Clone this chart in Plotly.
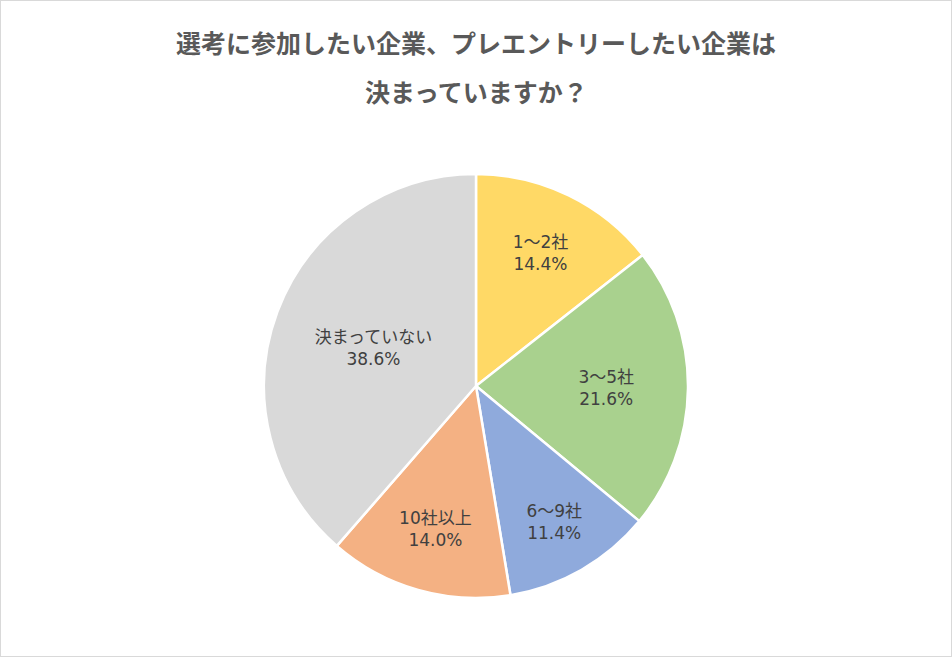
import plotly.graph_objects as go

# Survey answers (clockwise from 12 o'clock)
labels = ["1～2社", "3～5社", "6～9社", "10社以上", "決まっていない"]
shares = [14.4, 21.6, 11.4, 14.0, 38.6]
colors = ["#FFD966", "#A9D18E", "#8FAADC", "#F4B183", "#D9D9D9"]
title_lines = ["選考に参加したい企業、プレエントリーしたい企業は", "決まっていますか？"]

W, H = 952, 657
cx, cy, r = 476, 386, 212

fig = go.Figure(go.Pie(
    labels=labels,
    values=shares,
    sort=False,
    direction="clockwise",
    rotation=0,
    marker=dict(colors=colors, line=dict(color="white", width=2.5)),
    texttemplate="%{label}<br>%{value:.1f}%",
    textposition="inside",
    insidetextorientation="horizontal",
    textfont=dict(family="DejaVu Sans, Noto Sans CJK JP", size=17, color="#404040"),
    domain=dict(x=[(cx - r) / W, (cx + r) / W], y=[(H - cy - r) / H, (H - cy + r) / H]),
    showlegend=False,
    hoverinfo="label+percent",
))

# two title lines placed as annotations to get the wide line gap
for text, ypx in zip(title_lines, [42, 91]):
    fig.add_annotation(
        text=f"<b>{text}</b>", x=0.5, y=1 - ypx / H, xref="paper", yref="paper",
        showarrow=False, xanchor="center", yanchor="middle",
        font=dict(family="Noto Sans CJK JP", size=25, color="#595959"),
    )

# thin outer frame
fig.add_shape(type="rect", xref="paper", yref="paper", x0=0, y0=0, x1=1, y1=1,
              line=dict(color="#D9D9D9", width=2))

fig.update_layout(
    width=W, height=H,
    margin=dict(l=0, r=0, t=0, b=0),
    paper_bgcolor="white",
    plot_bgcolor="white",
    uniformtext=dict(minsize=17, mode="show"),
)

# drop the page's default body margin so the figure sits at the window corner
fig.write_html(
    "out.html",
    config={"displayModeBar": False},
    post_script="document.body.style.margin='0';document.body.style.overflow='hidden';",
)
